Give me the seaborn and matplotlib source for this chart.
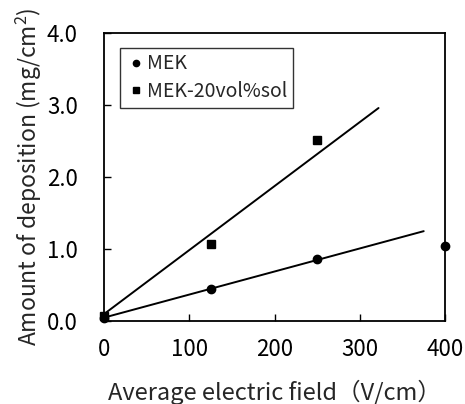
import matplotlib
matplotlib.use("Agg")
import matplotlib.pyplot as plt
import seaborn as sns

# measured points
field_mek = [0, 125, 250, 400]
dep_mek = [0.05, 0.44, 0.87, 1.04]
field_sol = [0, 125, 250]
dep_sol = [0.07, 1.07, 2.52]

# fitted lines (end points)
fit_mek_x = [0, 375]
fit_mek_y = [0.05, 1.25]
fit_sol_x = [0, 322]
fit_sol_y = [0.10, 2.96]

sns.set_style("ticks")
plt.rcParams['font.family'] = ['Noto Sans CJK JP', 'DejaVu Sans']
plt.rcParams['mathtext.fontset'] = 'custom'
plt.rcParams['mathtext.rm'] = 'Noto Sans CJK JP'

fig = plt.figure(figsize=(4.65, 4.04), dpi=100)
ax = fig.add_axes([0.224, 0.205, 0.733, 0.713])

sns.lineplot(x=fit_mek_x, y=fit_mek_y, ax=ax, color="black", lw=1.4)
sns.lineplot(x=fit_sol_x, y=fit_sol_y, ax=ax, color="black", lw=1.4)

ax.plot(field_mek, dep_mek, "o", color="black", ms=6, label="MEK", clip_on=False)
ax.plot(field_sol, dep_sol, "s", color="black", ms=6, label="MEK-20vol%sol", clip_on=False)

ax.set_xlim(0, 400)
ax.set_ylim(0, 4.0)
ax.set_xticks([0, 100, 200, 300, 400])
ax.set_yticks([0, 1, 2, 3, 4])
ax.set_yticklabels([f"{v:.1f}" for v in [0, 1, 2, 3, 4]])
ax.tick_params(direction="in", length=5, width=1, labelsize=16, colors="black")
ax.tick_params(axis="x", pad=12)
ax.tick_params(axis="y", pad=19)
for s in ax.spines.values():
    s.set_color("black")
    s.set_linewidth(1.3)

ax.set_xlabel("Average electric field（V/cm）", fontsize=17, labelpad=14)
ax.set_ylabel("Amount of deposition (mg/cm$^2$)", fontsize=16.5, labelpad=2)

leg = ax.legend(loc="upper left", bbox_to_anchor=(0.047, 0.95), borderaxespad=0,
                fontsize=14, frameon=True, fancybox=False, edgecolor="black",
                handletextpad=0.1, handlelength=1.0, borderpad=0.3,
                labelspacing=0.35, markerscale=0.75)
leg.get_frame().set_linewidth(1.0)

fig.savefig("out.png", dpi=100)
